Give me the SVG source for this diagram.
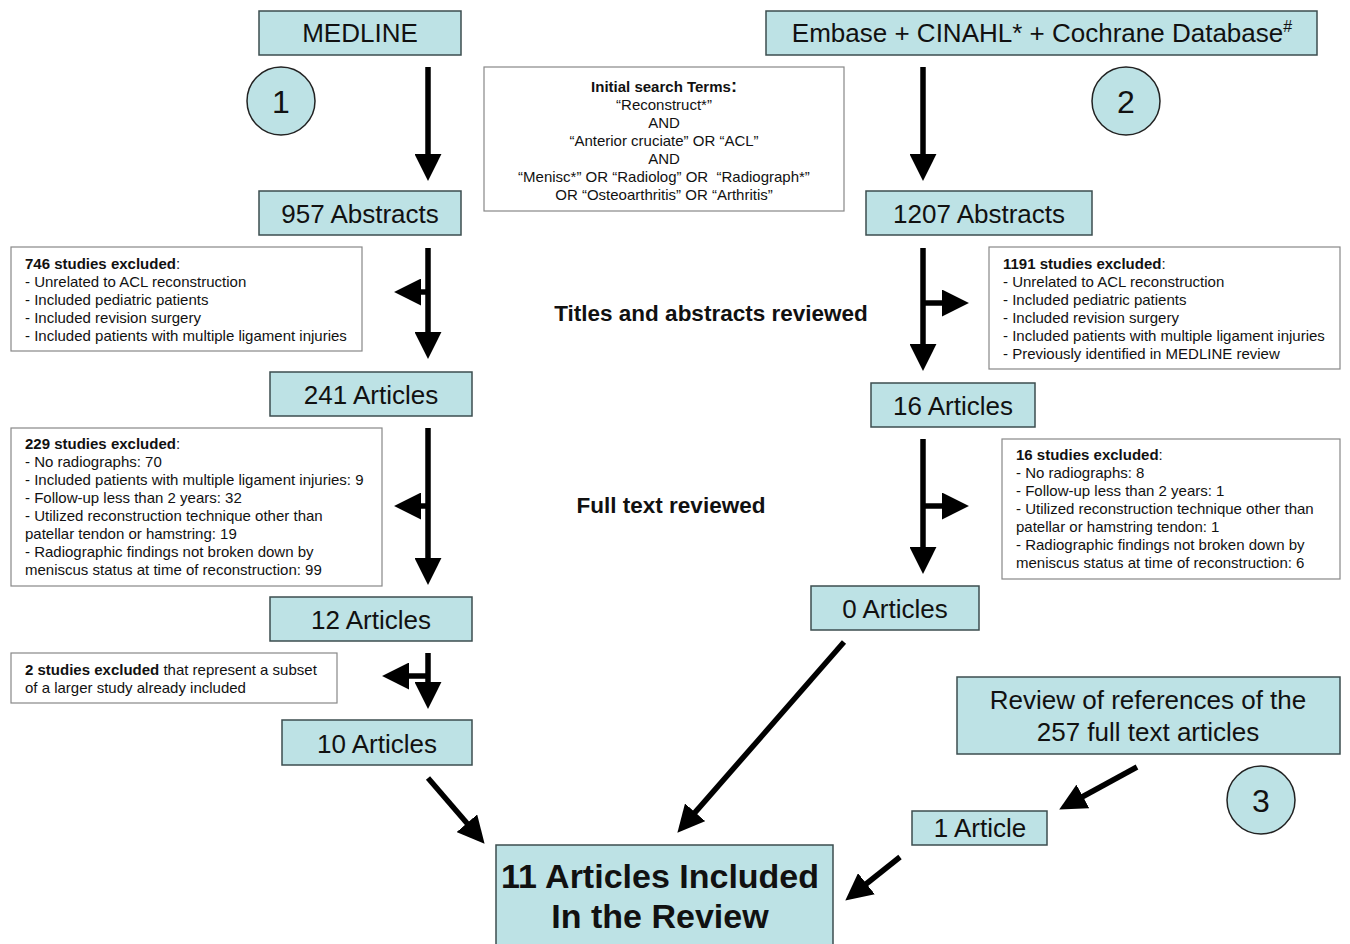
<svg xmlns="http://www.w3.org/2000/svg" width="1350" height="944" viewBox="0 0 1350 944">
<style>
.box{fill:#bde2e5;stroke:#3c4d4f;stroke-width:1.5}
.note{fill:#fff;stroke:#888;stroke-width:1.2}
.circ{fill:#bde2e5;stroke:#222;stroke-width:1.5}
.lbl{font-family:"Liberation Sans",Arial,sans-serif;font-size:26px;fill:#111;text-anchor:middle}
.num{font-family:"Liberation Sans",Arial,sans-serif;font-size:32px;fill:#111;text-anchor:middle}
.sm{font-family:"Liberation Sans",Arial,sans-serif;font-size:15px;fill:#111}
.smc{font-family:"Liberation Sans",Arial,sans-serif;font-size:15px;fill:#111;text-anchor:middle}
.hd{font-family:"Liberation Sans",Arial,sans-serif;font-size:22.5px;font-weight:bold;fill:#111;text-anchor:middle}
.big{font-family:"Liberation Sans",Arial,sans-serif;font-size:34px;font-weight:bold;fill:#111;text-anchor:middle}
.b{font-weight:bold}
.con line{stroke:#000;stroke-width:5.5;marker-end:url(#ah)}
</style>
<defs>
<marker id="ah" markerUnits="userSpaceOnUse" markerWidth="27" markerHeight="27" viewBox="0 0 26 26" refX="2" refY="13" orient="auto">
<path d="M0,0 L26,13 L0,26 z" fill="#000"/>
</marker>
</defs>

<g id="medline"><rect class="box" x="259" y="11" width="202" height="44"/><text class="lbl" x="360" y="42">MEDLINE</text></g>
<g id="embase"><rect class="box" x="766" y="11" width="551" height="44"/><text class="lbl" x="1042" y="42">Embase + CINAHL* + Cochrane Database<tspan font-size="16" dy="-10">#</tspan></text></g>
<g id="c1"><circle class="circ" cx="281" cy="101" r="34"/><text class="num" x="281" y="113">1</text></g>
<g id="c2"><circle class="circ" cx="1126" cy="101" r="34"/><text class="num" x="1126" y="113">2</text></g>
<g id="c3"><circle class="circ" cx="1261" cy="800" r="34"/><text class="num" x="1261" y="812">3</text></g>

<g id="terms"><rect class="note" x="484" y="67" width="360" height="144"/>
<text class="smc" x="664" y="92"><tspan class="b">Initial search Terms</tspan><tspan class="b" font-size="18">:</tspan></text>
<text class="smc" x="664" y="110">“Reconstruct*”</text>
<text class="smc" x="664" y="128">AND</text>
<text class="smc" x="664" y="146">“Anterior cruciate” OR “ACL”</text>
<text class="smc" x="664" y="164">AND</text>
<text class="smc" x="664" y="182" xml:space="preserve">“Menisc*” OR “Radiolog” OR  “Radiograph*”</text>
<text class="smc" x="664" y="200">OR “Osteoarthritis” OR “Arthritis”</text>
</g>

<g id="abs957"><rect class="box" x="259" y="191" width="202" height="44"/><text class="lbl" x="360" y="223">957 Abstracts</text></g>
<g id="abs1207"><rect class="box" x="866" y="191" width="226" height="44"/><text class="lbl" x="979" y="223">1207 Abstracts</text></g>

<g id="ex746"><rect class="note" x="11" y="247" width="351" height="104"/>
<text class="sm" x="25" y="269"><tspan class="b">746 studies excluded</tspan>:</text>
<text class="sm" x="25" y="287">- Unrelated to ACL reconstruction</text>
<text class="sm" x="25" y="305">- Included pediatric patients</text>
<text class="sm" x="25" y="323">- Included revision surgery</text>
<text class="sm" x="25" y="341">- Included patients with multiple ligament injuries</text>
</g>
<g id="ex1191"><rect class="note" x="989" y="247" width="351" height="122"/>
<text class="sm" x="1003" y="269"><tspan class="b">1191 studies excluded</tspan>:</text>
<text class="sm" x="1003" y="287">- Unrelated to ACL reconstruction</text>
<text class="sm" x="1003" y="305">- Included pediatric patients</text>
<text class="sm" x="1003" y="323">- Included revision surgery</text>
<text class="sm" x="1003" y="341">- Included patients with multiple ligament injuries</text>
<text class="sm" x="1003" y="359">- Previously identified in MEDLINE review</text>
</g>
<text class="hd" x="711" y="321">Titles and abstracts reviewed</text>

<g id="art241"><rect class="box" x="270" y="372" width="202" height="44"/><text class="lbl" x="371" y="404">241 Articles</text></g>
<g id="art16"><rect class="box" x="871" y="383" width="164" height="44"/><text class="lbl" x="953" y="415">16 Articles</text></g>

<g id="ex229"><rect class="note" x="11" y="428" width="371" height="158"/>
<text class="sm" x="25" y="449"><tspan class="b">229 studies excluded</tspan>:</text>
<text class="sm" x="25" y="467">- No radiographs: 70</text>
<text class="sm" x="25" y="485">- Included patients with multiple ligament injuries: 9</text>
<text class="sm" x="25" y="503">- Follow-up less than 2 years: 32</text>
<text class="sm" x="25" y="521">- Utilized reconstruction technique other than</text>
<text class="sm" x="25" y="539">patellar tendon or hamstring: 19</text>
<text class="sm" x="25" y="557">- Radiographic findings not broken down by</text>
<text class="sm" x="25" y="575">meniscus status at time of reconstruction: 99</text>
</g>
<g id="ex16"><rect class="note" x="1002" y="439" width="338" height="140"/>
<text class="sm" x="1016" y="460"><tspan class="b">16 studies excluded</tspan>:</text>
<text class="sm" x="1016" y="478">- No radiographs: 8</text>
<text class="sm" x="1016" y="496">- Follow-up less than 2 years: 1</text>
<text class="sm" x="1016" y="514">- Utilized reconstruction technique other than</text>
<text class="sm" x="1016" y="532">patellar or hamstring tendon: 1</text>
<text class="sm" x="1016" y="550">- Radiographic findings not broken down by</text>
<text class="sm" x="1016" y="568">meniscus status at time of reconstruction: 6</text>
</g>
<text class="hd" x="671" y="513">Full text reviewed</text>

<g id="art12"><rect class="box" x="270" y="597" width="202" height="44"/><text class="lbl" x="371" y="629">12 Articles</text></g>
<g id="art0"><rect class="box" x="811" y="586" width="168" height="44"/><text class="lbl" x="895" y="618">0 Articles</text></g>

<g id="ex2"><rect class="note" x="11" y="653" width="326" height="50"/>
<text class="sm" x="25" y="675"><tspan class="b">2 studies excluded</tspan> that represent a subset</text>
<text class="sm" x="25" y="693">of a larger study already included</text>
</g>

<g id="art10"><rect class="box" x="282" y="720" width="190" height="45"/><text class="lbl" x="377" y="753">10 Articles</text></g>
<g id="refs"><rect class="box" x="957" y="677" width="383" height="77"/><text class="lbl" x="1148" y="709">Review of references of the</text><text class="lbl" x="1148" y="741">257 full text articles</text></g>
<g id="art1"><rect class="box" x="912" y="811" width="135" height="34"/><text class="lbl" x="980" y="837">1 Article</text></g>
<g id="final"><rect class="box" x="496" y="845" width="337" height="104"/><text class="big" x="660" y="888">11 Articles Included</text><text class="big" x="660" y="928">In the Review</text></g>

<g id="connectors" class="con">
<line x1="428" y1="67" x2="428" y2="156"/>
<line x1="923" y1="67" x2="923" y2="156"/>
<line x1="428" y1="248" x2="428" y2="334"/>
<line x1="428" y1="292" x2="419" y2="292"/>
<line x1="923" y1="248" x2="923" y2="346"/>
<line x1="923" y1="303" x2="944" y2="303"/>
<line x1="428" y1="428" x2="428" y2="560"/>
<line x1="428" y1="506" x2="419" y2="506"/>
<line x1="923" y1="439" x2="923" y2="549"/>
<line x1="923" y1="506" x2="944" y2="506"/>
<line x1="428" y1="653" x2="428" y2="684"/>
<line x1="428" y1="676" x2="407" y2="676"/>
<line x1="428" y1="778" x2="468.3" y2="824.8"/>
<line x1="844" y1="642" x2="693.8" y2="813.9"/>
<line x1="1137" y1="767" x2="1081.1" y2="797.5"/>
<line x1="900" y1="857" x2="864.8" y2="885"/>
</g>
</svg>
